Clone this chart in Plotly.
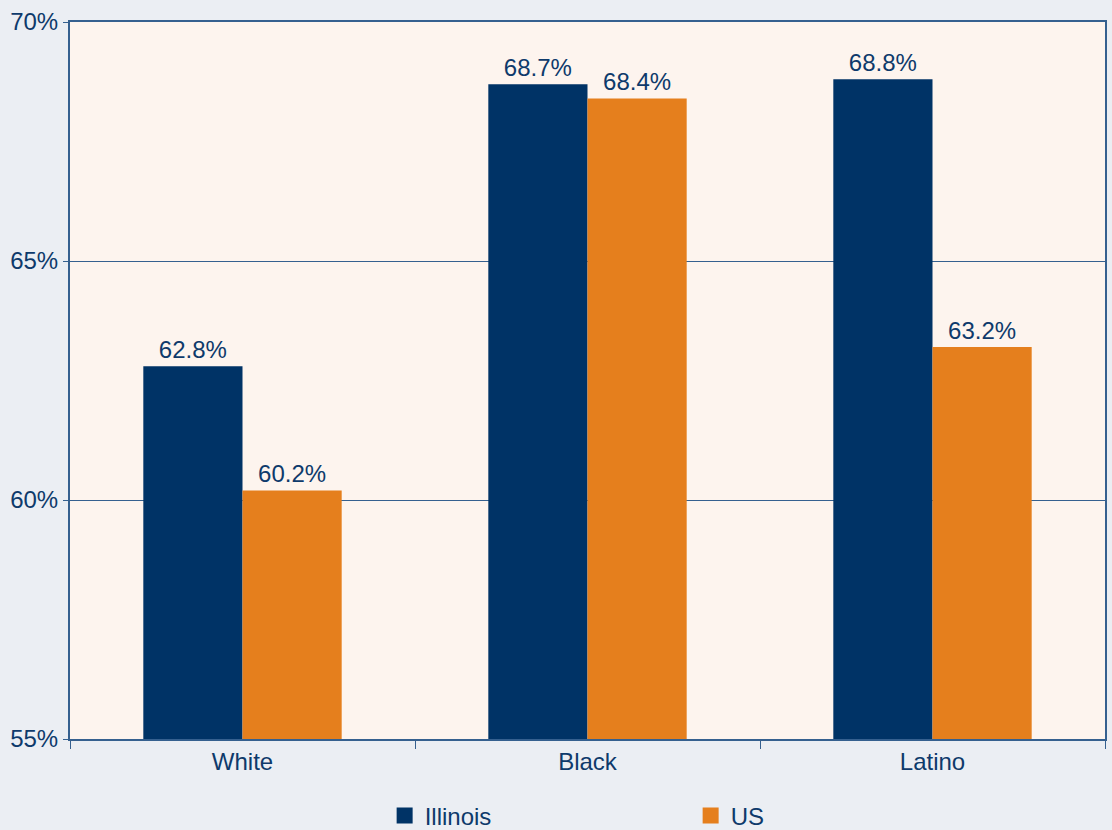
import plotly.graph_objects as go

categories = ["White", "Black", "Latino"]
illinois = [62.8, 68.7, 68.8]
us = [60.2, 68.4, 63.2]
y_ticks = [55, 60, 65, 70]

NAVY = "#003366"
ORANGE = "#E57F1D"
TEXT = "#0E3A6B"
LINE = "#35608F"
FONT = "Liberation Sans"

fig = go.Figure()
for name, vals, color in [("Illinois", illinois, NAVY), ("US", us, ORANGE)]:
    fig.add_trace(go.Bar(
        x=categories, y=vals, name=name, marker_color=color,
        marker_line_width=0, showlegend=False,
        text=[f"{v:.1f}%" for v in vals], textposition="outside",
        textfont=dict(family=FONT, size=24, color=TEXT),
        cliponaxis=False,
    ))
    # legend entry with a larger square swatch
    fig.add_trace(go.Scatter(
        x=[None], y=[None], mode="markers", name=name,
        marker=dict(symbol="square", size=22, color=color),
    ))

fig.update_layout(
    width=1112, height=830,
    margin=dict(l=70, r=7, t=22, b=91, autoexpand=False),
    paper_bgcolor="#EBEEF3",
    plot_bgcolor="#FDF4EE",
    barmode="group", bargap=0.425, bargroupgap=0,
    font=dict(family=FONT, size=24, color=TEXT),
    legend=dict(
        orientation="h", x=0.304, xanchor="left",
        yref="container", y=0.017, yanchor="middle",
        entrywidth=261, entrywidthmode="pixels",
        font=dict(family=FONT, size=24, color=TEXT),
        bgcolor="rgba(0,0,0,0)", itemsizing="trace",
    ),
    xaxis=dict(
        showline=True, linecolor=LINE, linewidth=2, mirror=True,
        ticks="outside", tickson="boundaries", ticklen=8, tickcolor=LINE,
        tickfont=dict(family=FONT, size=24, color=TEXT),
        showgrid=False,
    ),
    yaxis=dict(
        range=[55, 70], tickvals=y_ticks,
        ticktext=[f"{t}%" for t in y_ticks],
        showline=True, linecolor=LINE, linewidth=2, mirror=True,
        ticks="outside", ticklen=5, tickcolor=LINE,
        tickfont=dict(family=FONT, size=24, color=TEXT),
        showgrid=True, gridcolor=LINE, gridwidth=1,
        zeroline=False,
    ),
)

fig.write_html("out.html")
